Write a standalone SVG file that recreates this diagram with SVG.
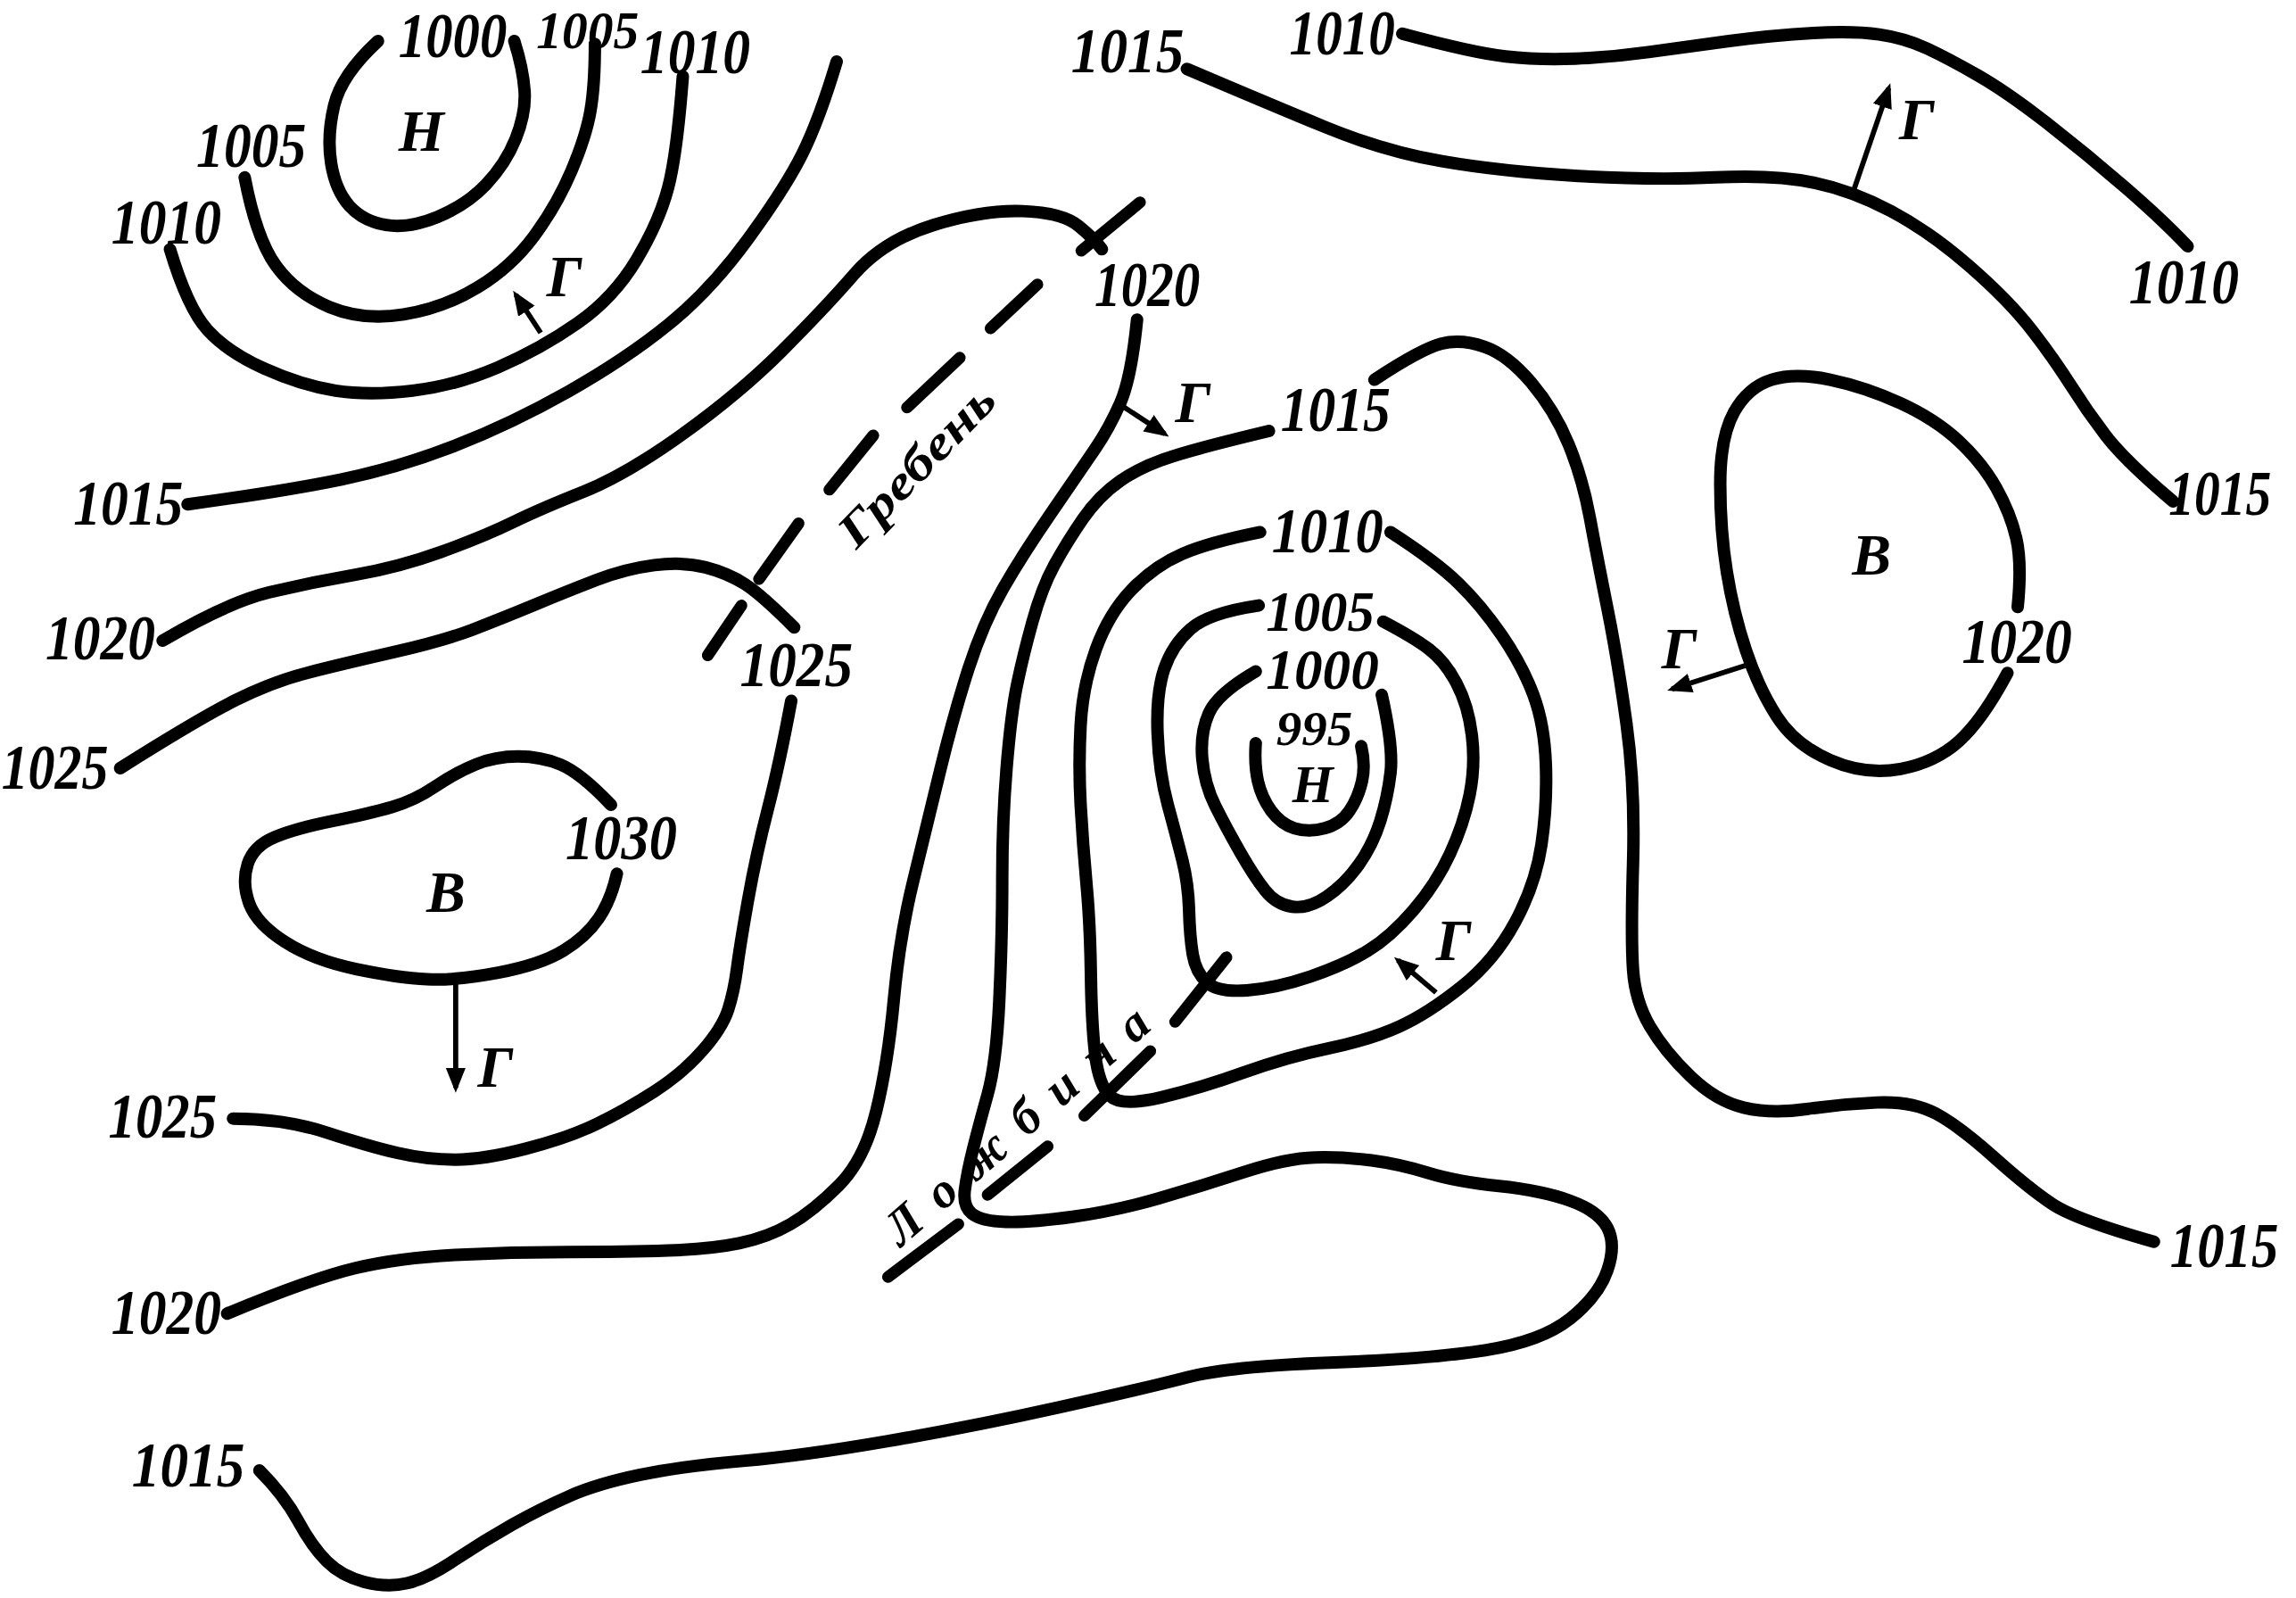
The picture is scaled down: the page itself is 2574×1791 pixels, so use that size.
<svg xmlns="http://www.w3.org/2000/svg" width="2574" height="1791" viewBox="0 0 2574 1791">
<defs>
<style>
.c{fill:none;stroke:#000;stroke-width:8.5;stroke-linecap:round;stroke-linejoin:round}
.d{fill:none;stroke:#000;stroke-width:8;stroke-linecap:round}
.a{fill:none;stroke:#000;stroke-width:3.5;marker-end:url(#ah)}
.t{font-family:"Liberation Serif","DejaVu Serif",serif;font-style:italic;font-weight:bold;font-size:44px;fill:#000}
.s{font-size:38px}
.l{font-family:"Liberation Serif","DejaVu Serif",serif;font-style:italic;font-weight:bold;font-size:40px;fill:#000}
</style>
<marker id="ah" viewBox="0 0 10 10" refX="8" refY="5" markerWidth="4.8" markerHeight="4.8" orient="auto" markerUnits="strokeWidth">
<path d="M0,1 L10,5 L0,9 z" fill="#000"/>
</marker>
</defs>
<rect x="0" y="0" width="2574" height="1791" fill="#fff"/>
<g transform="scale(1.6427,1.6431)">
<g id="isobars">
<path class="c" d="M258,28 Q233,51 228,72 Q223,93 226,111.5 Q229,130 238.5,140.5 Q248,151 263.5,153.5 Q279,156 298.5,148 Q318,140 331.5,126 Q345,112 352,94.5 Q359,77 358,62 Q357,47 351,28"/>
<path class="c" d="M167,121 Q175,163 188.5,181.5 Q202,200 225,209.5 Q248,219 275.5,214.5 Q303,210 326,196 Q349,182 364.5,161 Q380,140 390,116.5 Q400,93 403,75.5 Q406,58 406,30"/>
<path class="c" d="M116,170 Q128,210 141.5,225 Q155,240 180.5,251.5 Q206,263 229,266.5 Q252,270 281.5,266.5 Q311,263 340,250.5 Q369,238 394,220.5 Q419,203 434.5,177 Q450,151 456,128 Q462,105 466,52"/>
<path class="c" d="M128,344 Q194,335 233,327 Q272,319 310.5,304 Q349,289 388,267 Q427,245 456,221.5 Q485,198 510.5,163 Q536,128 547.5,105 Q559,82 571,42"/>
<path class="c" d="M111,437 Q155,411 184,404 Q213,397 242.5,392 Q272,387 301,376.5 Q330,366 349.5,356.5 Q369,347 398,335.5 Q427,324 466,296 Q505,268 534,239 Q563,210 583,187 Q603,164 637,153.5 Q671,143 698,144 Q725,145 736,154 Q747,163 752,170"/>
<path class="c" d="M776,218 Q772,258 764.5,275 Q757,292 747.5,306 Q738,320 718,349 Q698,378 684.5,401.5 Q671,425 661,456 Q651,487 641.5,526 Q632,565 623,602 Q614,639 610,682 Q606,725 598,758 Q590,791 572.5,808.5 Q555,826 539.5,835 Q524,844 504.5,848 Q485,852 456,853 Q427,854 388,854 Q349,854 310.5,856 Q272,858 242.5,865 Q213,872 155,896"/>
<path class="c" d="M82,524 Q136,490 161,477.5 Q186,465 209.5,459 Q233,453 268,445 Q303,437 322.5,429.5 Q342,422 365,412.5 Q388,403 407.5,395.5 Q427,388 446.5,385.5 Q466,383 481.5,387 Q497,391 508.5,398.5 Q520,406 542,428"/>
<path class="c" d="M540,478 Q532,521 524,552 Q516,583 510.5,614 Q505,645 503,660.5 Q501,676 497,688.5 Q493,701 479.5,716.5 Q466,732 446.5,744.5 Q427,757 407.5,766.5 Q388,776 359,783.5 Q330,791 310.5,791 Q291,791 271.5,786.5 Q252,782 223,772.5 Q194,763 159,763"/>
<path class="c" d="M417,549 Q396,527 382.5,521.5 Q369,516 353.5,516 Q338,516 324.5,521.5 Q311,527 297,536.5 Q283,546 267.5,550.5 Q252,555 227,560 Q202,565 187.5,571 Q173,577 169,589.5 Q165,602 170,616 Q175,630 194.5,642.5 Q214,655 243,661 Q272,667 291.5,668 Q311,669 340,663.5 Q369,658 384.5,648.5 Q400,639 408.5,626.5 Q417,614 421,596"/>
<path class="c" d="M810,47 Q864,70 904,86.5 Q944,103 984,110 Q1024,117 1077,120 Q1130,123 1170.5,121 Q1211,119 1237.5,124.5 Q1264,130 1290.5,144 Q1317,158 1344,181.5 Q1371,205 1386.5,225 Q1402,245 1413,262.5 Q1424,280 1437,297 Q1450,314 1483,342"/>
<path class="c" d="M957,23 Q1005,36 1027.5,38.5 Q1050,41 1075,40 Q1100,39 1125,35.5 Q1150,32 1180,28 Q1210,24 1237.5,22.5 Q1265,21 1282.5,23.5 Q1300,26 1315,33 Q1330,40 1350,51.5 Q1370,63 1397,84 Q1424,105 1450.5,128 Q1477,151 1493,168"/>
<path class="c" d="M1377,414 Q1380,384 1376,367 Q1372,350 1362.5,333 Q1353,316 1337,301 Q1321,286 1297,275 Q1273,264 1249,259 Q1225,254 1209,259 Q1193,264 1183.5,281 Q1174,298 1174,330 Q1174,362 1178.5,390 Q1183,418 1191.5,443.5 Q1200,469 1212.5,488.5 Q1225,508 1249,518.5 Q1273,529 1297,524.5 Q1321,520 1337,505.5 Q1353,491 1370,459"/>
<path class="c" d="M938,259 Q970,238 983.5,234.5 Q997,231 1013,236.5 Q1029,242 1045,261 Q1061,280 1070.5,303 Q1080,326 1085,353 Q1090,380 1097,415 Q1104,450 1110,493.5 Q1116,537 1114.5,588.5 Q1113,640 1114.5,661.5 Q1116,683 1126,700 Q1136,717 1153.5,734 Q1171,751 1190,755.5 Q1209,760 1233,756.5 Q1257,753 1281,752 Q1305,751 1321,759.5 Q1337,768 1361,789.5 Q1385,811 1401,821.5 Q1417,832 1470,847"/>
<path class="c" d="M866,294 Q820,305 799.5,311.5 Q779,318 764.5,328 Q750,338 739,354 Q728,370 719.5,385.5 Q711,401 704.5,424.5 Q698,448 694,467.5 Q690,487 687,523.5 Q684,560 684,599.5 Q684,639 682,682 Q680,725 674,746.5 Q668,768 664,784 Q660,800 658.5,811.5 Q657,823 663.5,828 Q670,833 686.5,833.5 Q703,834 732,830 Q761,826 790.5,817.5 Q820,809 849,799.5 Q878,790 897.5,789.5 Q917,789 936,791.5 Q955,794 974.5,800 Q994,806 1023,809 Q1052,812 1071.5,819 Q1091,826 1097,837.5 Q1103,849 1097,866.5 Q1091,884 1071.5,899.5 Q1052,915 1013.5,921 Q975,927 907,929.5 Q839,932 810,939.5 Q781,947 722.5,960 Q664,973 606,983 Q548,993 507,996.5 Q466,1000 437,1006 Q408,1012 388.5,1020.5 Q369,1029 349.5,1040 Q330,1051 310.5,1064 Q291,1077 277.5,1080 Q264,1083 248.5,1079 Q233,1075 223,1065 Q213,1055 203.5,1037.5 Q194,1020 177,1003"/>
<path class="c" d="M860,363 Q825,370 806.5,378 Q788,386 772.5,402 Q757,418 748,442.5 Q739,467 737.5,494.5 Q736,522 737.5,549 Q739,576 741.5,603 Q744,630 744.5,665 Q745,700 747.5,720 Q750,740 757.5,747.5 Q765,755 792.5,748.5 Q820,742 849,731.5 Q878,721 907,715 Q936,709 955.5,700 Q975,691 997.5,673 Q1020,655 1034,629 Q1048,603 1052,576 Q1056,549 1055,521.5 Q1054,494 1046.5,474 Q1039,454 1025,433.5 Q1011,413 995.5,398 Q980,383 949,363"/>
<path class="c" d="M859,413 Q825,418 812.5,429 Q800,440 794.5,456.5 Q789,473 790,500 Q791,527 797,549 Q803,571 807,587 Q811,603 811.5,621 Q812,639 814,651 Q816,663 823.5,670 Q831,677 851,675.5 Q871,674 894.5,666 Q918,658 933.5,648.5 Q949,639 964.5,621 Q980,603 989.5,582.5 Q999,562 1003,542 Q1007,522 1004.5,501.5 Q1002,481 994,466 Q986,451 975.5,443 Q965,435 944,424"/>
<path class="c" d="M857,458 Q831,473 825,486.5 Q819,500 820.5,517.5 Q822,535 829.5,550 Q837,565 846.5,581.5 Q856,598 863.5,607.5 Q871,617 882,618.5 Q893,620 905.5,611.5 Q918,603 927.5,589.5 Q937,576 942,560 Q947,544 949,527 Q951,510 943,474"/>
<path class="c" d="M857,507 Q856,522 858.5,533 Q861,544 867.5,553 Q874,562 883.5,565 Q893,568 904,565 Q915,562 921,553 Q927,544 929.5,533 Q932,522 929,509"/>
</g>
<g id="ridge-axis">
<line class="d" x1="778" y1="138" x2="738" y2="171"/>
<line class="d" x1="708" y1="194" x2="676" y2="224"/>
<line class="d" x1="655" y1="244" x2="619" y2="278"/>
<line class="d" x1="596" y1="297" x2="566" y2="334"/>
<line class="d" x1="545" y1="357" x2="518" y2="395"/>
<line class="d" x1="506" y1="413" x2="483" y2="447"/>
<text class="t" style="font-size:32px" transform="translate(633,325) rotate(-46)" text-anchor="middle" textLength="140" lengthAdjust="spacingAndGlyphs">Гребень</text>
</g>
<g id="trough-axis">
<line class="d" x1="606" y1="871" x2="654" y2="835"/>
<line class="d" x1="674" y1="815" x2="715" y2="782"/>
<line class="d" x1="740" y1="761" x2="785" y2="717"/>
<line class="d" x1="802" y1="697" x2="837" y2="653"/>
<text class="t" style="font-size:34px" transform="translate(615,851) rotate(-41)" textLength="228" lengthAdjust="spacing">Ложбина</text>
</g>
<g id="gradient-arrows">
<line class="a" x1="369" y1="227" x2="352" y2="201"/>
<line class="a" x1="311" y1="669" x2="311" y2="742"/>
<line class="a" x1="766" y1="277" x2="795" y2="296"/>
<line class="a" x1="1264" y1="133" x2="1289" y2="60"/>
<line class="a" x1="1191" y1="454" x2="1141" y2="470"/>
<line class="a" x1="980" y1="677" x2="954" y2="655"/>
</g>
<g id="labels">
<text class="t" x="272" y="39" textLength="74" lengthAdjust="spacingAndGlyphs">1000</text>
<text class="t" style="font-size:36px" x="366" y="33" textLength="70" lengthAdjust="spacingAndGlyphs">1005</text>
<text class="t" x="437" y="50" textLength="75" lengthAdjust="spacingAndGlyphs">1010</text>
<text class="t" x="134" y="114" textLength="75" lengthAdjust="spacingAndGlyphs">1005</text>
<text class="t" x="76" y="166" textLength="75" lengthAdjust="spacingAndGlyphs">1010</text>
<text class="t" x="50" y="358" textLength="75" lengthAdjust="spacingAndGlyphs">1015</text>
<text class="t" x="31" y="450" textLength="75" lengthAdjust="spacingAndGlyphs">1020</text>
<text class="t" x="1" y="538" textLength="73" lengthAdjust="spacingAndGlyphs">1025</text>
<text class="t" x="505" y="468" textLength="77" lengthAdjust="spacingAndGlyphs">1025</text>
<text class="t" x="386" y="586" textLength="76" lengthAdjust="spacingAndGlyphs">1030</text>
<text class="t" x="74" y="776" textLength="74" lengthAdjust="spacingAndGlyphs">1025</text>
<text class="t" x="76" y="910" textLength="75" lengthAdjust="spacingAndGlyphs">1020</text>
<text class="t" x="90" y="1014" textLength="77" lengthAdjust="spacingAndGlyphs">1015</text>
<text class="t" x="747" y="209" textLength="72" lengthAdjust="spacingAndGlyphs">1020</text>
<text class="t" x="731" y="49" textLength="77" lengthAdjust="spacingAndGlyphs">1015</text>
<text class="t" x="880" y="37" textLength="72" lengthAdjust="spacingAndGlyphs">1010</text>
<text class="t" x="1453" y="207" textLength="75" lengthAdjust="spacingAndGlyphs">1010</text>
<text class="t" x="1480" y="351" textLength="70" lengthAdjust="spacingAndGlyphs">1015</text>
<text class="t" x="1339" y="452" textLength="75" lengthAdjust="spacingAndGlyphs">1020</text>
<text class="t" x="874" y="294" textLength="75" lengthAdjust="spacingAndGlyphs">1015</text>
<text class="t" x="868" y="377" textLength="76" lengthAdjust="spacingAndGlyphs">1010</text>
<text class="t s" x="864" y="430" textLength="74" lengthAdjust="spacingAndGlyphs">1005</text>
<text class="t s" x="864" y="470" textLength="77" lengthAdjust="spacingAndGlyphs">1000</text>
<text class="t" style="font-size:34px" x="871" y="508" textLength="52" lengthAdjust="spacingAndGlyphs">995</text>
<text class="l" style="font-size:36px" x="882" y="547">Н</text>
<text class="t" x="1481" y="864" textLength="74" lengthAdjust="spacingAndGlyphs">1015</text>
<text class="l" x="272" y="103">Н</text>
<text class="l" x="291" y="622">В</text>
<text class="l" x="1264" y="392">В</text>
<text class="l" x="373" y="202">Г</text>
<text class="l" x="326" y="741">Г</text>
<text class="l" x="802" y="288">Г</text>
<text class="l" x="1296" y="95">Г</text>
<text class="l" x="1134" y="456">Г</text>
<text class="l" x="980" y="655">Г</text>
</g>
</g>
</svg>
